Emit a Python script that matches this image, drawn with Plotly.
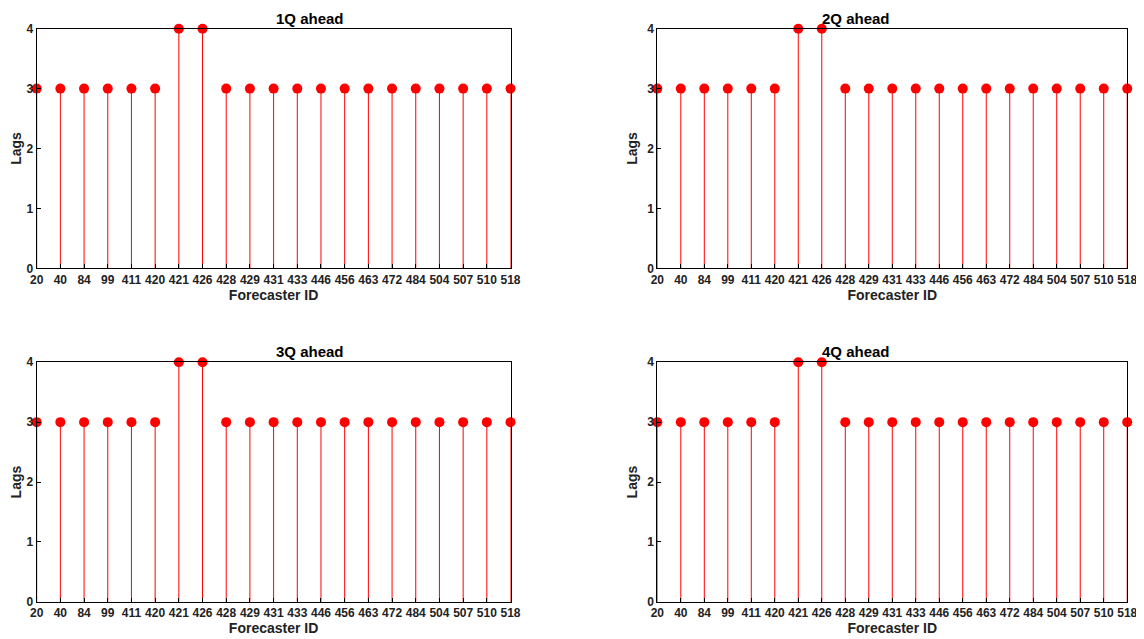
import plotly.graph_objects as go

ids = ["20","40","84","99","411","420","421","426","428","429","431","433","446","456","463","472","484","504","507","510","518"]
lags_1q = [3,3,3,3,3,3,4,4,3,3,3,3,3,3,3,3,3,3,3,3,3]
lags_2q = [3,3,3,3,3,3,4,4,3,3,3,3,3,3,3,3,3,3,3,3,3]
lags_3q = [3,3,3,3,3,3,4,4,3,3,3,3,3,3,3,3,3,3,3,3,3]
lags_4q = [3,3,3,3,3,3,4,4,3,3,3,3,3,3,3,3,3,3,3,3,3]
titles = ["1Q ahead","2Q ahead","3Q ahead","4Q ahead"]
series = [lags_1q, lags_2q, lags_3q, lags_4q]

W, H = 1144, 639
xd = [[22/W, 503/W], [652/W, 1129/W]]
yd = [[1-259/H, 1-14/H], [1-600/H, 1-355/H]]
fig = go.Figure()
font = dict(family="Liberation Sans, Arial", color="#222")
for k, (t, vals) in enumerate(zip(titles, series)):
    r, c = divmod(k, 2)
    xa = "x" if k == 0 else f"x{k+1}"
    ya = "y" if k == 0 else f"y{k+1}"
    idx = list(range(len(ids)))
    sx, sy = [], []
    for i, v in zip(idx, vals):
        sx += [i, i, None]; sy += [0, v, None]
    fig.add_trace(go.Scatter(x=sx, y=sy, mode="lines", line=dict(color="red", width=1),
                             xaxis=xa, yaxis=ya, showlegend=False, hoverinfo="skip"))
    fig.add_trace(go.Scatter(x=idx, y=vals, mode="markers", marker=dict(color="red", size=10),
                             xaxis=xa, yaxis=ya, showlegend=False, cliponaxis=False))
    sfx = "" if k == 0 else str(k+1)
    common = dict(showgrid=False, zeroline=False, showline=True, linecolor="black", linewidth=1,
                  mirror=True, ticks="inside", ticklen=4, tickcolor="black",
                  tickfont=dict(size=12, family="Liberation Sans, Arial", color="#222", weight="bold"))
    fig.layout["xaxis"+sfx] = dict(domain=xd[c], anchor=ya, range=[0, len(ids)-1],
        tickmode="array", tickvals=idx, ticktext=ids,
        title=dict(text="<b>Forecaster ID</b>", font=dict(size=14, **font), standoff=2), **common)
    fig.layout["yaxis"+sfx] = dict(domain=yd[r], anchor=xa, range=[0, 4], dtick=1,
        title=dict(text="<b>Lags</b>", font=dict(size=14, **font), standoff=6), **common)
    fig.add_annotation(text=f"<b>{t}</b>", x=sum(xd[c])/2, y=yd[r][1], xref="paper", yref="paper",
                       yanchor="bottom", yshift=0, showarrow=False, font=dict(size=15, family="Liberation Sans, Arial", color="black"))

fig.update_layout(width=W, height=H, margin=dict(l=0, r=0, t=0, b=0),
                  plot_bgcolor="white", paper_bgcolor="white")
fig.write_html("out.html")
